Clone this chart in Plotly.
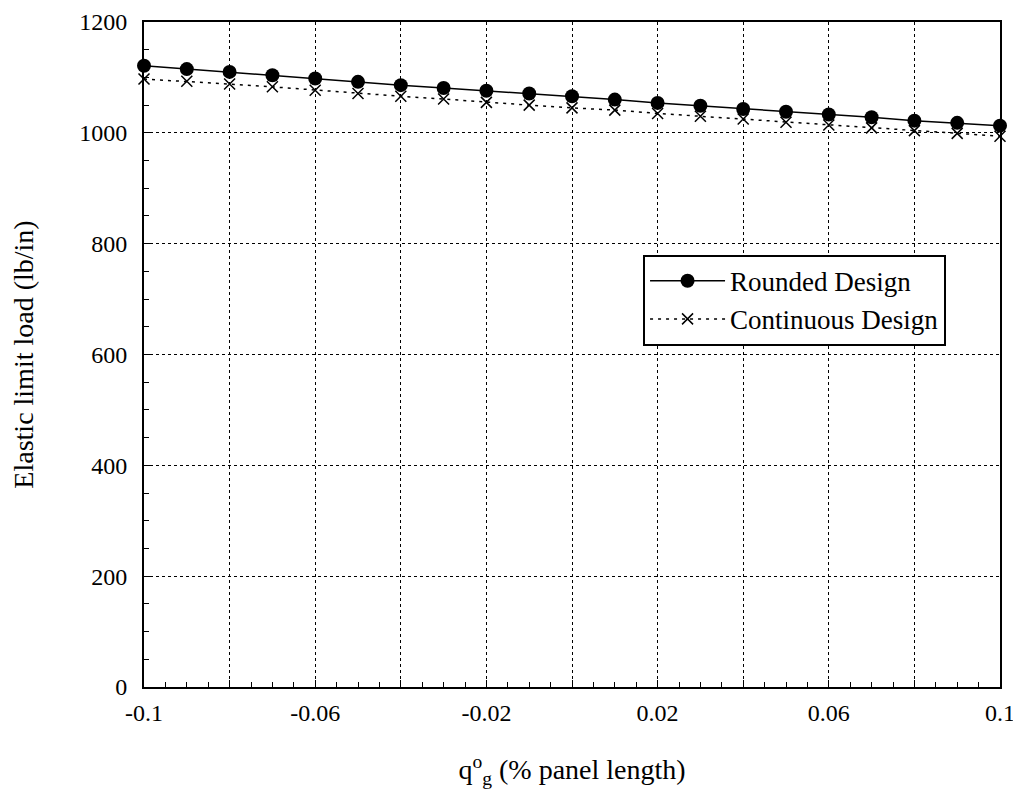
import plotly.graph_objects as go

# Data
x_vals = [-0.1, -0.09, -0.08, -0.07, -0.06, -0.05, -0.04, -0.03, -0.02, -0.01,
          0.0, 0.01, 0.02, 0.03, 0.04, 0.05, 0.06, 0.07, 0.08, 0.09, 0.1]
rounded = [1121, 1115, 1110, 1104, 1098, 1092, 1086, 1081, 1076, 1071,
           1066, 1060, 1054, 1049, 1043, 1038, 1033, 1028, 1022, 1018, 1013]
continuous = [1097, 1093, 1088, 1083, 1077, 1071, 1066, 1061, 1055, 1050,
              1045, 1041, 1035, 1030, 1025, 1019, 1014, 1009, 1004, 999, 994]

x_tickvals = [-0.1, -0.08, -0.06, -0.04, -0.02, 0.0, 0.02, 0.04, 0.06, 0.08, 0.1]
x_ticktext = ["-0.1", "", "-0.06", "", "-0.02", "", "0.02", "", "0.06", "", "0.1"]
y_tickvals = [0, 200, 400, 600, 800, 1000, 1200]
y_ticktext = ["0", "200", "400", "600", "800", "1000", "1200"]

FONT = "Liberation Serif, Times New Roman, serif"

fig = go.Figure()
fig.add_trace(go.Scatter(
    x=x_vals, y=rounded, name="Rounded Design", mode="lines+markers",
    line=dict(color="black", width=1.5),
    marker=dict(symbol="circle", size=14, color="black"),
    cliponaxis=False,
))
fig.add_trace(go.Scatter(
    x=x_vals, y=continuous, name="Continuous Design", mode="lines+markers",
    line=dict(color="black", width=1.5, dash="3px,5px"),
    marker=dict(symbol="x-thin", size=11, line=dict(color="black", width=1.5)),
    cliponaxis=False,
))

axis_common = dict(
    showline=True, linecolor="black", linewidth=2, mirror=True,
    showgrid=True, gridcolor="black", gridwidth=1, griddash="dot",
    zeroline=False, ticks="inside", ticklen=7, tickcolor="black", tickwidth=1,
    tickfont=dict(family=FONT, size=24, color="black"),
    automargin=False,
)

fig.update_xaxes(
    range=[-0.1, 0.1], tickmode="array", tickvals=x_tickvals, ticktext=x_ticktext,
    minor=dict(dtick=0.005, ticks="inside", ticklen=5, tickcolor="black", showgrid=False),
    ticklabelstandoff=3,
    title=dict(text="q<sup>o</sup><sub>g</sub> (% panel length)",
               font=dict(family=FONT, size=28, color="black"), standoff=35),
    **axis_common,
)
fig.update_yaxes(
    range=[0, 1200], tickmode="array", tickvals=y_tickvals, ticktext=y_ticktext,
    minor=dict(dtick=50, ticks="inside", ticklen=5, tickcolor="black", showgrid=False),
    ticklabelstandoff=10,
    title=dict(text="Elastic limit load (lb/in)",
               font=dict(family=FONT, size=28, color="black"), standoff=48),
    **axis_common,
)

# The page body has an 8px default margin; the figure is sized so that the
# plot area lands at the reference's pixel position in the 1021x807 window.
fig.update_layout(
    width=1013, height=799,
    margin=dict(l=136, r=21, t=14, b=120),
    paper_bgcolor="white", plot_bgcolor="white",
    font=dict(family=FONT, color="black"),
    showlegend=True,
    legend=dict(
        x=0.583, y=0.65, xanchor="left", yanchor="top",
        bgcolor="white", bordercolor="black", borderwidth=2,
        font=dict(family=FONT, size=27, color="black"),
        itemwidth=75,
    ),
)

fig.write_html("out.html")
